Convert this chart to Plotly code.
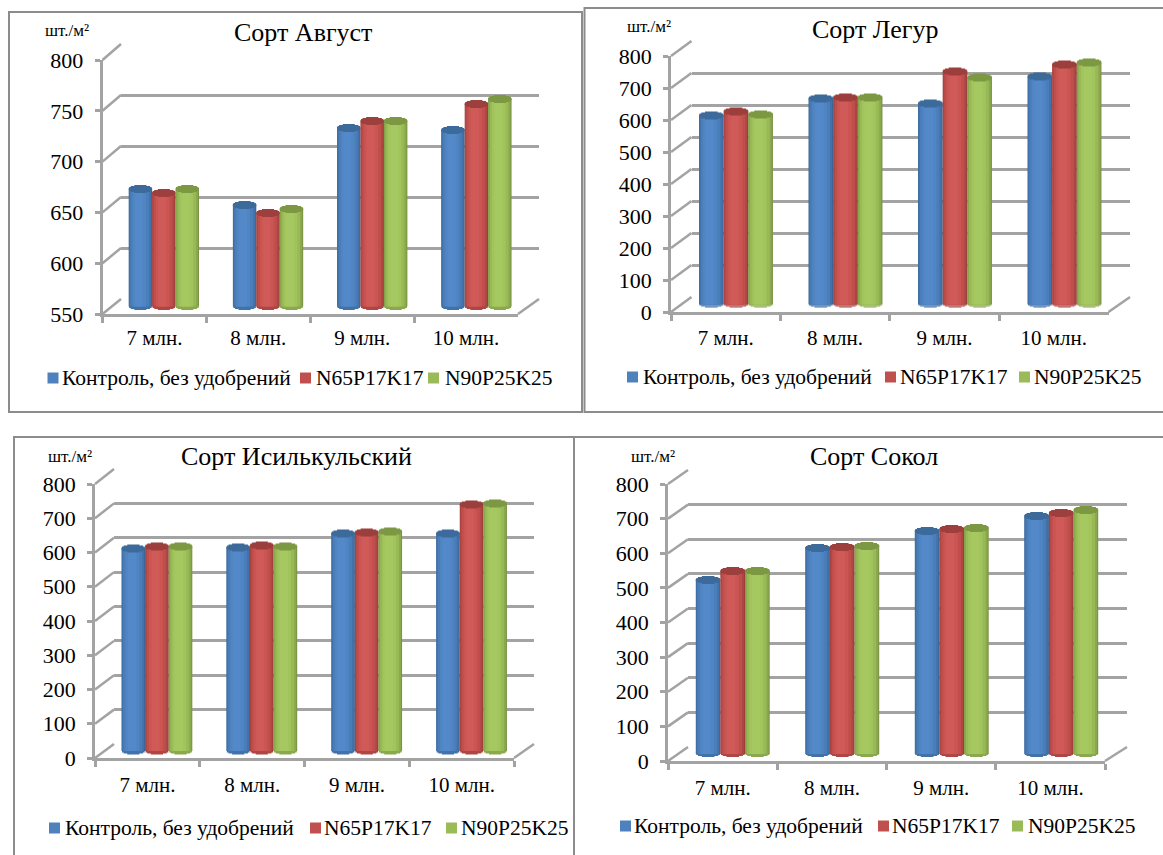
import math
import plotly.graph_objects as go

W, H = 1163, 855
categories = ["7 млн.", "8 млн.", "9 млн.", "10 млн."]
series_names = ["Контроль, без удобрений", "N65P17K17", "N90P25K25"]
titles = ["Сорт Август", "Сорт Легур", "Сорт Исилькульский", "Сорт Сокол"]

avgust_control = [668, 653, 728, 726]
avgust_n65 = [664, 645, 735, 752]
avgust_n90 = [668, 649, 735, 757]
legur_control = [600, 652, 638, 722]
legur_n65 = [612, 655, 737, 760]
legur_n90 = [603, 655, 720, 765]
isil_control = [600, 602, 643, 643]
isil_n65 = [605, 608, 645, 727]
isil_n90 = [605, 605, 648, 730]
sokol_control = [512, 605, 652, 695]
sokol_n65 = [538, 607, 658, 705]
sokol_n90 = [538, 610, 660, 712]

y_ticks_a = [550, 600, 650, 700, 750, 800]
y_ticks_b = [0, 100, 200, 300, 400, 500, 600, 700, 800]

panels = [
    dict(vals=[avgust_control, avgust_n65, avgust_n90], ticks=y_ticks_a,
         f=(102.5, 518, 60, 314), b=(121, 539, 44, 299), box=(9, 582, 12, 412), xs=3,
         title=(303, 32), unit=(43, 31), leg_y=378, sw=(47.5, 300, 428), tx=(60, 313.5, 442.5)),
    dict(vals=[legur_control, legur_n65, legur_n90], ticks=y_ticks_b,
         f=(671, 1108.5, 56, 312), b=(691.5, 1130, 41, 297), box=(584.5, 1170, 8, 412), xs=5,
         title=(875, 29), unit=(624.5, 27), leg_y=377, sw=(627, 885, 1019), tx=(641, 898, 1031.5)),
    dict(vals=[isil_control, isil_n65, isil_n90], ticks=y_ticks_b,
         f=(95, 514, 484, 758), b=(114, 534, 469, 744), box=(14, 574, 437, 870), xs=6,
         title=(296, 457), unit=(46, 456), leg_y=828, sw=(49, 310, 446), tx=(63, 322, 459)),
    dict(vals=[sokol_control, sokol_n65, sokol_n90], ticks=y_ticks_b,
         f=(668, 1105, 484, 761), b=(688, 1127, 470, 747), box=(574, 1170, 437, 870), xs=6,
         title=(874, 457), unit=(629, 456), leg_y=826, sw=(620, 878, 1012), tx=(632, 890, 1026)),
]

swatch_colors = ["#4f81bd", "#c0504d", "#9bbb59"]
# shading of each cylinder, from the edge towards the centre; last entry is the top cap
shades = [
    ["#3a6796", "#4272aa", "#4a7db9", "#4f85c3", "#5489c9", "#3c6a9a"],
    ["#9a3d3b", "#ae4744", "#c04f4c", "#cb5552", "#cf5a57", "#9c3f3d"],
    ["#7a9443", "#8aa84d", "#98b956", "#a2c45c", "#a6c860", "#7c9842"],
]
shade_widths = [1.0, 0.94, 0.80, 0.58, 0.34]
shade_shift = [0.0, -0.003, -0.006, -0.010, -0.014]
GRID = "#a3a3a3"
BAR_W = 0.225
FONT = "Liberation Serif"
PLANE_DROP = 3      # px the bar plane sits below mid depth
FOOT_PX = 6         # px of room under the plane for the round foot
FOOT_LIFT = 3       # px the feet stand above the bar plane's zero
CAP_RX = 3.5        # half height of the cylinder ellipse, px


def px_x(p):
    return p / W


def px_y(p):
    return 1 - p / H


def ax(n):
    return "" if n == 1 else str(n)


fig = go.Figure()
layout = {}
shapes = []
annotations = []

for i, p in enumerate(panels):
    fx0, fx1, fy0, fy1 = p["f"]
    bx0, bx1, by0, by1 = p["b"]
    ticks = p["ticks"]
    vmin, vmax = ticks[0], ticks[-1]
    bk, md, fr = 3 * i + 1, 3 * i + 2, 3 * i + 3  # back wall, bars, front axes

    # back wall: only gridlines
    layout[f"xaxis{ax(bk)}"] = dict(domain=[px_x(bx0), px_x(bx1)], range=[0, 1], visible=False,
                                    automargin=False, anchor=f"y{ax(bk)}")
    layout[f"yaxis{ax(bk)}"] = dict(domain=[px_y(by1), px_y(by0)], range=[vmin, vmax], automargin=False,
                                    tickvals=ticks, showticklabels=False, ticks="",
                                    showgrid=True, gridcolor=GRID, gridwidth=2.5, zeroline=False,
                                    showline=False, anchor=f"x{ax(bk)}")
    fig.add_trace(go.Scatter(x=[0], y=[vmin], mode="markers", marker=dict(opacity=0),
                             xaxis=f"x{ax(bk)}", yaxis=f"y{ax(bk)}", showlegend=False, hoverinfo="skip"))

    # bars stand at mid depth
    mx0, mx1 = (fx0 + bx0) / 2, (fx1 + bx1) / 2
    my0, my1 = (fy0 + by0) / 2 + PLANE_DROP, (fy1 + by1) / 2 + PLANE_DROP
    unit_px = (vmax - vmin) / (my1 - my0)
    floor = vmin + FOOT_LIFT * unit_px
    layout[f"xaxis{ax(md)}"] = dict(domain=[px_x(mx0), px_x(mx1)], range=[-0.5, 3.5], visible=False,
                                    automargin=False, anchor=f"y{ax(md)}")
    layout[f"yaxis{ax(md)}"] = dict(domain=[px_y(my1 + FOOT_PX), px_y(my0)],
                                    range=[vmin - FOOT_PX * unit_px, vmax], visible=False,
                                    automargin=False, anchor=f"x{ax(md)}")
    axes = dict(xaxis=f"x{ax(md)}", yaxis=f"y{ax(md)}")

    for s, vals in enumerate(p["vals"]):
        xs = [c + (s - 1) * BAR_W for c in range(len(categories))]
        colors = shades[s]
        n = len(vals)
        heights = [v - floor for v in vals]

        def bar(x, y, b, width, color):
            fig.add_trace(go.Bar(x=x, y=y, base=b, width=width, hoverinfo="skip",
                                 marker=dict(color=color, line_width=0),
                                 name=series_names[s], showlegend=False, **axes))

        # round foot: rows of the lower half of the ellipse
        for d in (3, 2, 1):
            frac = math.sqrt(1 - (d / CAP_RX) ** 2)
            bar(xs, [unit_px] * n, [floor - d * unit_px] * n, BAR_W * frac, colors[1])
        # body shading, from the edge to the centre
        for k in range(5):
            bar([x + shade_shift[k] for x in xs], heights, [floor] * n, BAR_W * shade_widths[k], colors[k])
        # dark top ellipse, row by row
        for d in (-3, -2, -1, 0, 1, 2, 3):
            frac = math.sqrt(1 - (d / CAP_RX) ** 2)
            bar(xs, [unit_px] * n, [v + (d - 0.5) * unit_px for v in vals], BAR_W * frac, colors[5])

    # front axes with labels
    layout[f"xaxis{ax(fr)}"] = dict(domain=[px_x(fx0), px_x(fx1)], type="category", automargin=False,
                                    categoryorder="array", categoryarray=categories, range=[-0.5, 3.5],
                                    tickson="boundaries", ticks="outside", ticklen=6, tickwidth=2.5,
                                    tickcolor=GRID, showline=True, linecolor=GRID, linewidth=2.5,
                                    showgrid=False, zeroline=False, anchor=f"y{ax(fr)}",
                                    ticklabelstandoff=p["xs"],
                                    tickfont=dict(family=FONT, size=21, color="#000"))
    layout[f"yaxis{ax(fr)}"] = dict(domain=[px_y(fy1), px_y(fy0)], range=[vmin, vmax], tickvals=ticks,
                                    ticks="outside", ticklen=5, tickwidth=2.5, tickcolor=GRID,
                                    automargin=False, showline=True, linecolor=GRID, linewidth=2.5,
                                    showgrid=False, zeroline=False, anchor=f"x{ax(fr)}",
                                    ticklabelstandoff=7, tickfont=dict(family=FONT, size=22, color="#000"))
    fig.add_trace(go.Scatter(x=categories, y=[vmin] * 4, mode="markers", marker=dict(opacity=0),
                             xaxis=f"x{ax(fr)}", yaxis=f"y{ax(fr)}", showlegend=False, hoverinfo="skip"))

    # diagonal side wall and floor
    for t in ticks:
        yf = fy1 + (fy0 - fy1) * (t - vmin) / (vmax - vmin)
        yb = by1 + (by0 - by1) * (t - vmin) / (vmax - vmin)
        shapes.append(dict(type="line", xref="paper", yref="paper", x0=px_x(fx0), x1=px_x(bx0),
                           y0=px_y(yf), y1=px_y(yb), line=dict(color=GRID, width=2.5)))
    shapes.append(dict(type="line", xref="paper", yref="paper", x0=px_x(fx1), x1=px_x(bx1),
                       y0=px_y(fy1), y1=px_y(by1), line=dict(color=GRID, width=2.5)))
    # frame
    x0, x1, y0, y1 = p["box"]
    shapes.append(dict(type="rect", xref="paper", yref="paper", x0=px_x(x0), x1=px_x(x1),
                       y0=px_y(y1), y1=px_y(y0), line=dict(color="#8c8c8c", width=2)))

    annotations.append(dict(text=titles[i], xref="paper", yref="paper", x=px_x(p["title"][0]),
                            y=px_y(p["title"][1]), xanchor="center", yanchor="middle", showarrow=False,
                            font=dict(family=FONT, size=26, color="#000")))
    annotations.append(dict(text="шт./м²", xref="paper", yref="paper", x=px_x(p["unit"][0]),
                            y=px_y(p["unit"][1]), xanchor="left", yanchor="middle", showarrow=False,
                            font=dict(family=FONT, size=17, color="#000")))

    # legend row
    for s, name in enumerate(series_names):
        sx, ly = p["sw"][s], p["leg_y"]
        shapes.append(dict(type="rect", xref="paper", yref="paper", x0=px_x(sx), x1=px_x(sx + 11),
                           y0=px_y(ly + 5.5), y1=px_y(ly - 5.5), line_width=0,
                           fillcolor=swatch_colors[s]))
        annotations.append(dict(text=name, xref="paper", yref="paper", x=px_x(p["tx"][s]), y=px_y(ly),
                                xanchor="left", yanchor="middle", showarrow=False,
                                font=dict(family=FONT, size=21.5, color="#000")))

fig.update_layout(width=W, height=H, margin=dict(l=0, r=0, t=0, b=0, autoexpand=False), barmode="overlay",
                  paper_bgcolor="white", plot_bgcolor="rgba(0,0,0,0)", showlegend=False,
                  shapes=shapes, annotations=annotations, **layout)
fig.write_html("out.html", config=dict(displayModeBar=False), post_script="document.body.style.margin='0';")
